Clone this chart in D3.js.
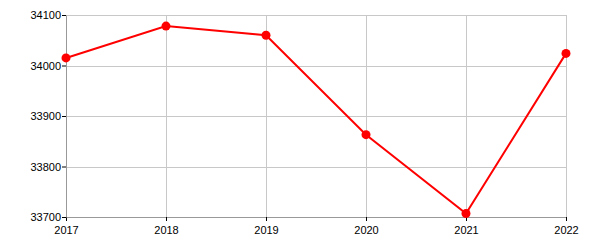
<!DOCTYPE html>
<html>
<head>
<meta charset="UTF-8">
<script src="https://cdn.jsdelivr.net/npm/d3@7"></script>
<style>
  body { margin: 0; background: #fff; }
  text { font-family: Arial, "Liberation Sans", sans-serif; font-size: 11px; fill: #000; }
</style>
</head>
<body>
<svg id="chart" width="600" height="250"></svg>
<script>
// data
var years = [2017, 2018, 2019, 2020, 2021, 2022];
var values = [34015, 34078, 34060, 33863, 33707, 34024];
var yTicks = [33700, 33800, 33900, 34000, 34100];

var margin = { top: 15, right: 34, bottom: 33, left: 66 };
var svg = d3.select("#chart");
var w = 600 - margin.left - margin.right;
var h = 250 - margin.top - margin.bottom;
var g = svg.append("g").attr("transform", "translate(" + margin.left + "," + margin.top + ")");

var x = d3.scaleLinear().domain([2017, 2022]).range([0, w]);
var y = d3.scaleLinear().domain([33700, 34100]).range([h, 0]);

// grid
g.selectAll(".vgrid").data(years).enter().append("line")
  .attr("x1", function (d) { return Math.round(x(d)) + 0.5; })
  .attr("x2", function (d) { return Math.round(x(d)) + 0.5; })
  .attr("y1", 0).attr("y2", h)
  .attr("stroke", "#c8c8c8");
g.selectAll(".hgrid").data(yTicks).enter().append("line")
  .attr("y1", function (d) { return Math.round(y(d)) + 0.5; })
  .attr("y2", function (d) { return Math.round(y(d)) + 0.5; })
  .attr("x1", 0).attr("x2", w)
  .attr("stroke", "#c8c8c8");

// axes
var xAxis = g.append("g").attr("transform", "translate(0," + h + ")")
  .call(d3.axisBottom(x).tickValues(years).tickFormat(d3.format("d")).tickSize(4).tickSizeOuter(0));
var yAxis = g.append("g")
  .call(d3.axisLeft(y).tickValues(yTicks).tickFormat(d3.format("d")).tickSize(4).tickSizeOuter(0));
[xAxis, yAxis].forEach(function (a) {
  a.select(".domain").attr("stroke", "#999");
  a.selectAll(".tick line").attr("stroke", "#000");
  a.selectAll("text").style("font-family", "Arial, 'Liberation Sans', sans-serif").style("font-size", "11px").attr("fill", "#000");
});
xAxis.selectAll("text").attr("dy", "0.9em");
yAxis.selectAll("text").attr("x", -5);

// line
var line = d3.line()
  .x(function (d, i) { return x(years[i]); })
  .y(function (d) { return y(d); });
g.append("path").datum(values)
  .attr("d", line)
  .attr("fill", "none")
  .attr("stroke", "#ff0000")
  .attr("stroke-width", 2);

g.selectAll(".dot").data(values).enter().append("circle")
  .attr("cx", function (d, i) { return x(years[i]); })
  .attr("cy", function (d) { return y(d); })
  .attr("r", 4.5)
  .attr("fill", "#ff0000");
</script>
</body>
</html>
